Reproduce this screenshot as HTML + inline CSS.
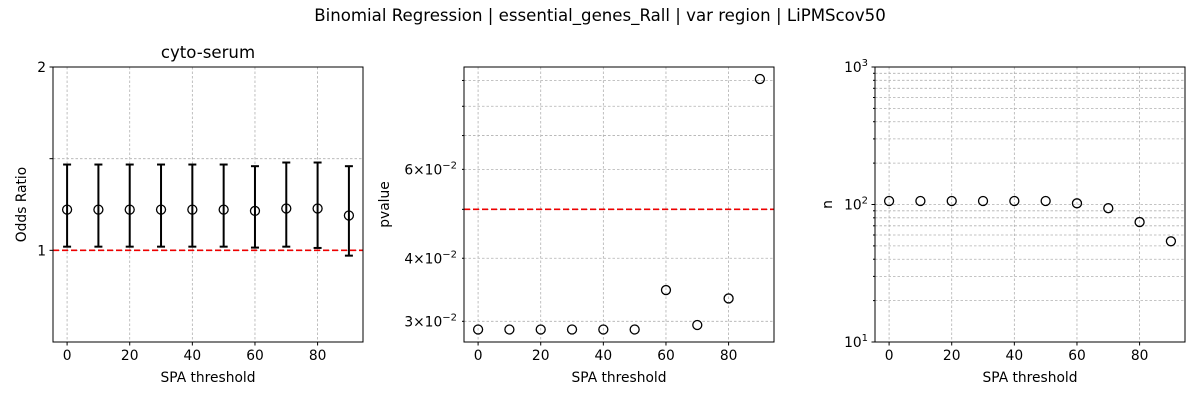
<!DOCTYPE html>
<html><head><meta charset="utf-8"><style>
body{margin:0;background:#fff;}
svg{display:block;font-family:"DejaVu Sans","Liberation Sans",sans-serif;}
</style></head><body>
<svg id="fig" width="1200" height="400" viewBox="0 0 1200 400">
<text x="600" y="21" text-anchor="middle" font-size="16.6">Binomial Regression | essential_genes_Rall | var region | LiPMScov50</text>
</svg>
<script>
const thresholds=[0,10,20,30,40,50,60,70,80,90];
const oddsRatio=[1.222,1.222,1.222,1.222,1.222,1.222,1.215,1.228,1.228,1.19];
const orUpper=[1.468,1.468,1.468,1.468,1.468,1.468,1.459,1.479,1.479,1.459];
const orLower=[1.02,1.02,1.02,1.02,1.02,1.02,1.015,1.02,1.013,0.971];
const pvalues=[0.0289,0.0289,0.0289,0.0289,0.0289,0.0289,0.0346,0.0295,0.0333,0.0906];
const nValues=[106,106,106,106,106,106,102,94,74.5,54];
const xTicks=[0,20,40,60,80];
const orRef=1, pRef=0.05;

const svg=document.getElementById('fig');
const NS='http://www.w3.org/2000/svg';
function mk(tag,attrs,parent){const e=document.createElementNS(NS,tag);for(const k in attrs)e.setAttribute(k,attrs[k]);(parent||svg).appendChild(e);return e;}
const T=67,B=342,FS=13.8;
function xScale(L){return v=>L+(v+4.5)/99*310;}
function linY(lo,hi){return v=>B-(v-lo)/(hi-lo)*(B-T);}
function logY(lo,hi){const a=Math.log10(lo),b=Math.log10(hi);return v=>B-(Math.log10(v)-a)/(b-a)*(B-T);}

function panel(L,name,ys,grids,labels,ylabel,title){
  const g=mk('g',{});
  
  
  const xs=xScale(L);
  xTicks.forEach(t=>{const x=xs(t);
    const l=mk('line',{x1:x,x2:x,y1:T,y2:B,stroke:'#b0b0b0','stroke-width':0.8,'stroke-dasharray':'2.5,2'},g);
    
    mk('line',{x1:x,x2:x,y1:B,y2:B+3.5,stroke:'#000'},g);
    const tx=mk('text',{x:x,y:B+18,'text-anchor':'middle','font-size':FS},g);tx.textContent=t;
    
  });
  grids.forEach(v=>{const y=ys(v);
    const l=mk('line',{x1:L,x2:L+310,y1:y,y2:y,stroke:'#b0b0b0','stroke-width':0.8,'stroke-dasharray':'2.5,2'},g);
    
    mk('line',{x1:L-(labels.major&&labels.major.includes(v)?3.5:2),x2:L,y1:y,y2:y,stroke:'#000'},g);
  });
  labels.items.forEach(([v,txt,exp])=>{const y=ys(v);
    const tx=mk('text',{x:L-7,y:y+5,'text-anchor':'end','font-size':FS},g);
    
    if(exp){tx.textContent=txt;const s=mk('tspan',{'font-size':10,dy:-6},tx);s.textContent=exp;}else tx.textContent=txt;
  });
  const xl=mk('text',{x:L+155,y:382,'text-anchor':'middle','font-size':FS},g);xl.textContent='SPA threshold';
  
  const yl=mk('text',{x:0,y:0,'text-anchor':'middle','font-size':FS,transform:`translate(${labels.ylx},${(T+B)/2}) rotate(-90)`},g);yl.textContent=ylabel;
  
  if(title){const tt=mk('text',{x:L+155,y:58,'text-anchor':'middle','font-size':16.6},g);tt.textContent=title;
    }
  return {g,xs};
}
function frame(g,L){const r=mk('rect',{x:L,y:T,width:310,height:B-T,fill:'none',stroke:'#000','stroke-width':1},g);
  }
function marker(g,x,y){const c=mk('circle',{cx:x,cy:y,r:4.5,fill:'none',stroke:'#000','stroke-width':1.3},g);
  }
function refLine(g,L,y){const l=mk('line',{x1:L,x2:L+310,y1:y,y2:y,stroke:'#e00','stroke-width':1.6,'stroke-dasharray':'6,3'},g);
  }

// Panel 1
{const L=53,ys=linY(0.5,2);
 const p=panel(L,'odds-ratio-panel',ys,[1,1.5,2],{items:[[1,'1'],[2,'2']],major:[1,1.5,2],ylx:26},'Odds Ratio','cyto-serum');
 refLine(p.g,L,ys(orRef));
 thresholds.forEach((t,i)=>{const x=p.xs(t);
   const e=mk('g',{},p.g);
   mk('line',{x1:x,x2:x,y1:ys(orUpper[i]),y2:ys(orLower[i]),stroke:'#000','stroke-width':2},e);
   mk('line',{x1:x-4,x2:x+4,y1:ys(orUpper[i]),y2:ys(orUpper[i]),stroke:'#000','stroke-width':2},e);
   mk('line',{x1:x-4,x2:x+4,y1:ys(orLower[i]),y2:ys(orLower[i]),stroke:'#000','stroke-width':2},e);
   marker(p.g,x,ys(oddsRatio[i]));});
 frame(p.g,L);}
// Panel 2
{const L=464,ys=logY(0.0273,0.0957);
 const p=panel(L,'pvalue-panel',ys,[0.03,0.04,0.05,0.06,0.07,0.08,0.09],{items:[[0.03,'3\u00d710','\u22122'],[0.04,'4\u00d710','\u22122'],[0.06,'6\u00d710','\u22122']],major:[],ylx:389},'pvalue',null);
 refLine(p.g,L,ys(pRef));
 thresholds.forEach((t,i)=>marker(p.g,p.xs(t),ys(pvalues[i])));
 frame(p.g,L);}
// Panel 3
{const L=875,ys=logY(10,1000);const gr=[];
 [10,100].forEach(d=>{for(let k=1;k<10;k++)gr.push(d*k);});gr.push(1000);
 const p=panel(L,'n-panel',ys,gr,{items:[[10,'10','1'],[100,'10','2'],[1000,'10','3']],major:[10,100,1000],ylx:832},'n',null);
 thresholds.forEach((t,i)=>marker(p.g,p.xs(t),ys(nValues[i])));
 frame(p.g,L);}
</script>
</body></html>
